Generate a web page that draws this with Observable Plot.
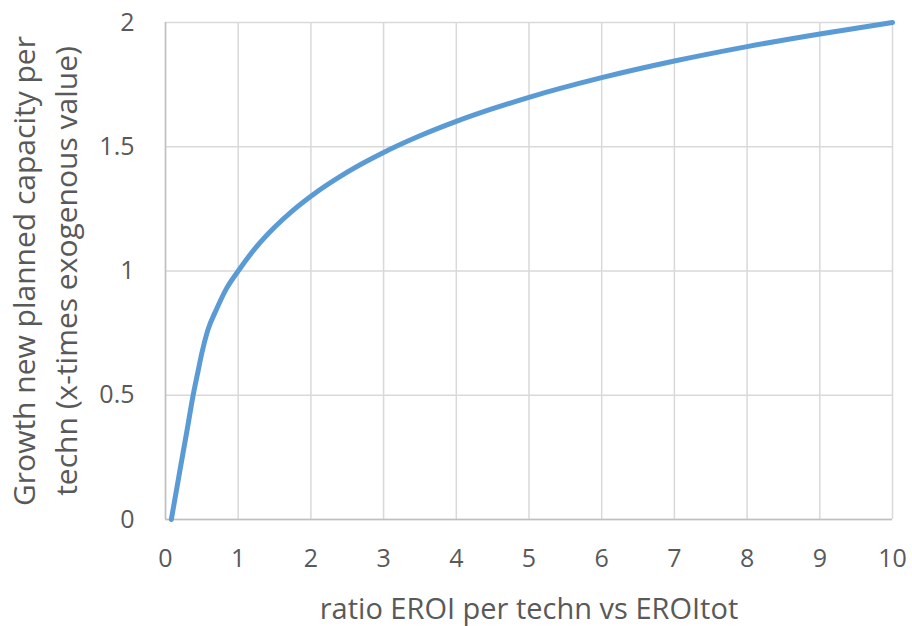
<!DOCTYPE html>
<html>
<head>
<meta charset="utf-8">
<script src="https://cdn.jsdelivr.net/npm/d3@7"></script>
<script src="https://cdn.jsdelivr.net/npm/@observablehq/plot@0.6"></script>
<style>
  html, body { margin: 0; padding: 0; background: #fff; }
  #chart { width: 912px; height: 626px; }
</style>
</head>
<body>
<div id="chart"></div>
<script>
const ratioEROI = [0.08, 0.2, 0.3, 0.38, 0.45, 0.5, 0.58, 0.7, 0.84, 1, 1.25, 1.5, 1.75, 2, 2.5, 3, 3.5, 4, 4.5, 5, 6, 7, 8, 9, 10];
const growth    = [0, 0.2, 0.365, 0.5, 0.6, 0.67, 0.76, 0.845, 0.93, 1.0, 1.097, 1.176, 1.243, 1.301, 1.398, 1.477, 1.544, 1.602, 1.653, 1.699, 1.778, 1.845, 1.903, 1.954, 2.0];
const xTicks = [0, 1, 2, 3, 4, 5, 6, 7, 8, 9, 10];
const yTicks = [0, 0.5, 1, 1.5, 2];
const xTitle = "ratio EROI per techn vs EROItot";
const yTitle = ["Growth new planned capacity per", "techn (x-times exogenous value)"];

const data = ratioEROI.map((x, i) => ({x, y: growth[i]}));
const font = "Open Sans, sans-serif";
const textColor = "#595959";

const chart = Plot.plot({
  width: 912,
  height: 626,
  marginLeft: 165,
  marginRight: 20,
  marginTop: 22,
  marginBottom: 107,
  style: {fontFamily: font, background: "#fff", overflow: "visible"},
  x: {domain: [0, 10], ticks: xTicks},
  y: {domain: [0, 2], ticks: yTicks},
  marks: [
    Plot.gridX(xTicks, {stroke: "#d9d9d9", strokeOpacity: 1, strokeWidth: 1.5}),
    Plot.gridY(yTicks, {stroke: "#d9d9d9", strokeOpacity: 1, strokeWidth: 1.5}),
    Plot.ruleX([0], {stroke: "#bfbfbf", strokeWidth: 1.5}),
    Plot.ruleY([0], {stroke: "#bfbfbf", strokeWidth: 1.5}),
    Plot.axisX(xTicks, {tickSize: 0, tickPadding: 30, fontSize: 25, fill: textColor, label: null}),
    Plot.axisY(yTicks, {tickSize: 0, tickPadding: 31, fontSize: 25, fill: textColor, label: null, tickFormat: d => String(d)}),
    Plot.line(data, {x: "x", y: "y", stroke: "#5b9bd5", strokeWidth: 5, curve: "monotone-x"}),
    Plot.text([xTitle], {frameAnchor: "bottom", lineAnchor: "middle", dy: 90, fontSize: 29, fill: textColor}),
    Plot.text([yTitle[0]], {frameAnchor: "left", rotate: -90, textAnchor: "middle", lineAnchor: "middle", dx: -140, fontSize: 30, fill: textColor}),
    Plot.text([yTitle[1]], {frameAnchor: "left", rotate: -90, textAnchor: "middle", lineAnchor: "middle", dx: -98, fontSize: 30, fill: textColor})
  ]
});
document.getElementById("chart").appendChild(chart);
</script>
</body>
</html>
